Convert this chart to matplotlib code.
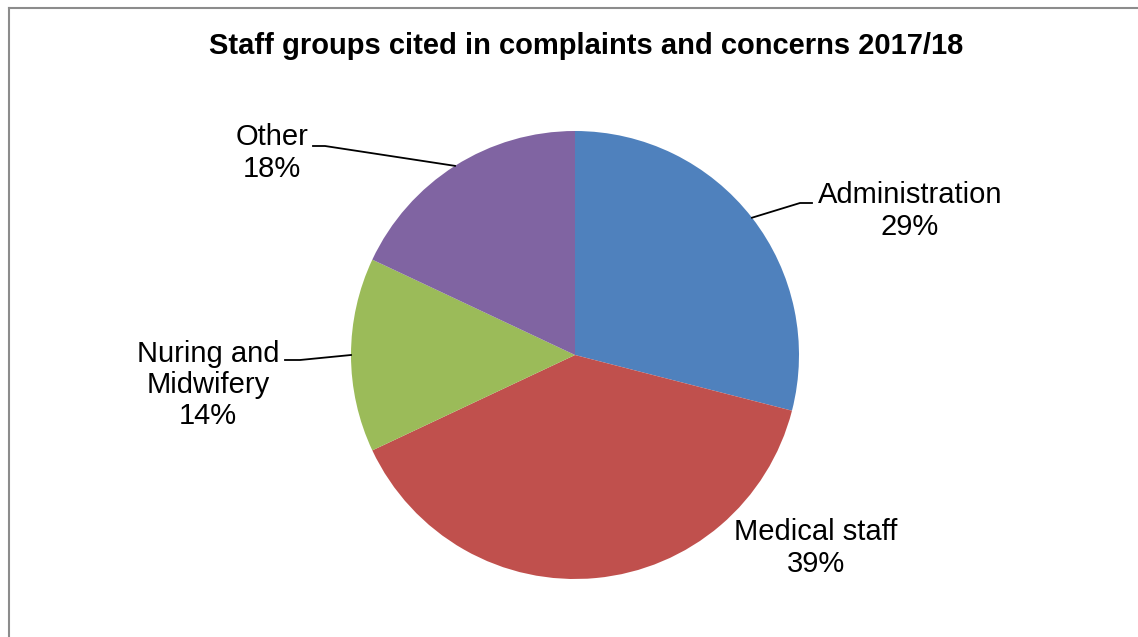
import numpy as np
import matplotlib.pyplot as plt
from matplotlib.lines import Line2D

plt.rcParams['font.family'] = ['Liberation Sans', 'DejaVu Sans']

groups = ['Administration', 'Medical staff', 'Nuring and\nMidwifery', 'Other']
shares = [29, 39, 14, 18]
colours = ['#4F81BD', '#C0504D', '#9BBB59', '#8064A2']

W, H = 1138, 637
fig = plt.figure(figsize=(W / 100, H / 100), dpi=100)

# pie axes: centre (575, 355) px, radius 224 px
cx, cy, r = 575, 355, 224
ax = fig.add_axes([(cx - r) / W, (H - cy - r) / H, 2 * r / W, 2 * r / H])
wedges, _ = ax.pie(shares, colors=colours, startangle=90, counterclock=False,
                   radius=1, wedgeprops=dict(linewidth=0))
ax.set_xlim(-1, 1)
ax.set_ylim(-1, 1)
ax.set_aspect('auto')
ax.axis('off')

def px(x, y):
    return (x - cx) / r, (cy - y) / r

# label positions (px) and leader elbows
label_pos = [(910, 211), (816, 548), (208, 385), (272, 153)]
elbows = [[(800, 203), (812, 203)], None, [(300, 360), (285, 360)], [(325, 146), (313, 146)]]

for w, g, s, pos, elb in zip(wedges, groups, shares, label_pos, elbows):
    ang = np.deg2rad((w.theta1 + w.theta2) / 2)
    edge = (np.cos(ang), np.sin(ang))
    if elb is not None:
        pts = [edge] + [px(*p) for p in elb]
        xs, ys = zip(*pts)
        ax.add_line(Line2D(xs, ys, color='black', lw=1.3, clip_on=False))
    tx, ty = px(*pos)
    ax.text(tx, ty, f'{g}\n{s}%', ha='center', va='center', fontsize=21,
            linespacing=1.15, clip_on=False)

fig.text(586 / W, 1 - 46 / H, 'Staff groups cited in complaints and concerns 2017/18',
         ha='center', va='center', fontsize=21, fontweight='bold')

# chart area border (left and top visible)
fig.add_artist(Line2D([8.5 / W, 8.5 / W], [0, 1 - 7.5 / H], transform=fig.transFigure,
                      color='#8c8c8c', lw=1.5))
fig.add_artist(Line2D([8.5 / W, 1], [1 - 7.5 / H, 1 - 7.5 / H], transform=fig.transFigure,
                      color='#8c8c8c', lw=1.5))

fig.savefig('out.png', dpi=100)
